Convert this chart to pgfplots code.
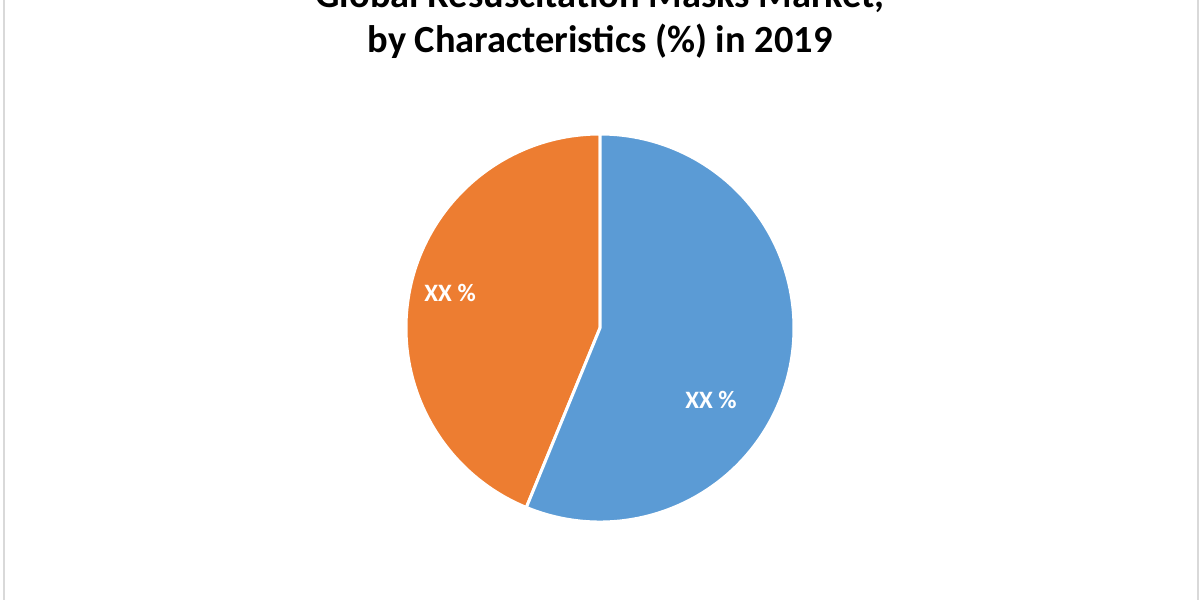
\documentclass[border=0pt]{standalone}
\usepackage{pgfplots}
\pgfplotsset{compat=1.18}
\usepackage{pgfplotstable}
\usepackage{fontspec}
\setmainfont{Carlito}
\definecolor{pieblue}{HTML}{5B9BD5}
\definecolor{pieorange}{HTML}{ED7D31}
\definecolor{edgegray}{HTML}{D9D9D9}
\pgfplotstableread{
label share
Blue 56.2
Orange 43.8
}\piedata
\pgfplotstablegetelem{1}{share}\of\piedata
\pgfmathsetmacro\orangeend{90+3.6*\pgfplotsretval}
\begin{document}
\begin{tikzpicture}[x=1pt,y=1pt]
\useasboundingbox (0,0) rectangle (600,300);
\begin{scope}
\clip (0,0) rectangle (600,300);
\fill[white] (0,0) rectangle (600,300);
\draw[edgegray, line width=1.2pt] (2,0) -- (2,300);
\draw[edgegray, line width=1.2pt] (599,0) -- (599,300);
\node[anchor=base, font=\fontsize{19.2}{22}\selectfont\bfseries] at (300,296) {Global Resuscitation Masks Market,};
\node[anchor=base, font=\fontsize{19.2}{22}\selectfont\bfseries] at (300,273.5) {by Characteristics (\%) in 2019};
\end{scope}
\begin{axis}[
  at={(300pt,136pt)}, anchor=origin,
  scale only axis, width=194pt, height=194pt,
  xmin=-1, xmax=1, ymin=-1, ymax=1,
  hide axis, clip=false]
\fill[pieorange, draw=white, line width=1.5pt, line join=round]
  (axis cs:0,0) -- (axis cs:0,1)
  arc[start angle=90, end angle=\orangeend, radius=97pt] -- cycle;
\fill[pieblue, draw=white, line width=1.5pt, line join=round]
  (axis cs:0,0) -- (axis cs:{cos(\orangeend)},{sin(\orangeend)})
  arc[start angle=\orangeend, end angle=450, radius=97pt] -- cycle;
\node[text=white, font=\fontsize{12.5}{14}\selectfont\bfseries] at (axis cs:-0.773,0.180) {XX \%};
\node[text=white, font=\fontsize{12.5}{14}\selectfont\bfseries] at (axis cs:0.572,-0.371) {XX \%};
\end{axis}
\end{tikzpicture}
\end{document}
